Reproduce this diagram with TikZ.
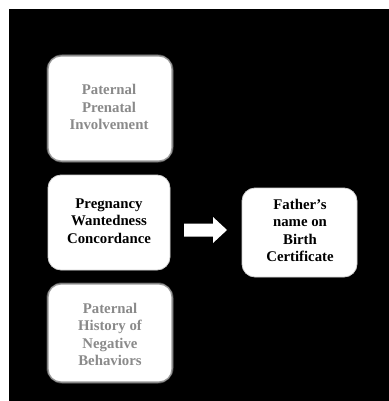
\documentclass[tikz,border=0pt]{standalone}
\usepackage{fontspec}
\setmainfont{Liberation Serif}
\definecolor{mutedtext}{HTML}{8A8A8A}
\definecolor{rimgray}{HTML}{9A9A9A}
\tikzset{
  x=1pt, y=-1pt,
  card/.style={fill=white, draw=rimgray, line width=1.2pt, rounded corners=13pt},
  brightcard/.style={fill=white, draw=gray!35, line width=0.8pt, rounded corners=13pt},
  glow/.style={draw=rimgray!55!black, line width=3pt, rounded corners=14pt},
  cardtext/.style={font=\fontsize{14.8}{17.5}\selectfont\bfseries, align=center, inner sep=0pt},
  muted/.style={cardtext, text=mutedtext},
  strong/.style={cardtext, text=black},
}
\begin{document}
\begin{tikzpicture}
  % page: thin white strip on the top and left, black field elsewhere
  \useasboundingbox (0,0) rectangle (388,401);
  \fill[white] (0,0) rectangle (388,401);
  \fill[black] (9,9) rectangle (390,403);

  % soft rims behind the grey cards
  \draw[glow] (48,56) rectangle (172,161);
  \draw[glow] (48,284) rectangle (172,382);

  % cards
  \draw[card] (48,56) rectangle (172,161);
  \draw[brightcard] (48,175) rectangle (170,270);
  \draw[card] (48,284) rectangle (172,382);
  \draw[brightcard] (242,188) rectangle (357,277);

  % labels
  \node[muted]  (pre) at (109,107) {Paternal\\Prenatal\\Involvement};
  \node[strong] (pwc) at (109,221) {Pregnancy\\Wantedness\\Concordance};
  \node[muted]  (neg) at (110,334.5) {Paternal\\History of\\Negative\\Behaviors};
  \node[strong] (fbc) at (300,230.5) {Father’s\\name on\\Birth\\Certificate};

  % block arrow between the middle card and the certificate card
  \coordinate (aT) at (227,230);
  \fill[white] (184,223.5) -- (213,223.5) -- (213,217) -- (aT) -- (213,243) -- (213,236.5) -- (184,236.5) -- cycle;
\end{tikzpicture}
\end{document}
